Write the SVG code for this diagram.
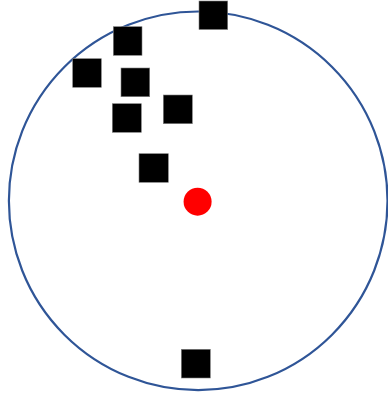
<svg xmlns="http://www.w3.org/2000/svg" width="388" height="396" viewBox="0 0 388 396">
<style>
.sq{fill:#000;stroke:#7f7f7f;stroke-width:0.6}
</style>
<rect width="388" height="396" fill="#fff"/>
<g id="boundary"><ellipse cx="198.2" cy="200.8" rx="189.3" ry="189.3" fill="none" stroke="#2F5597" stroke-width="2.2"/></g>
<g id="center"><circle cx="197.6" cy="201.7" r="14" fill="#FF0000"/></g>
<g id="s1"><rect class="sq" x="199" y="1" width="28.7" height="28.5"/></g>
<g id="s2"><rect class="sq" x="113.3" y="26.7" width="28.7" height="28.6"/></g>
<g id="s3"><rect class="sq" x="72.7" y="58.7" width="28.6" height="28.6"/></g>
<g id="s4"><rect class="sq" x="121" y="68" width="28.7" height="28.7"/></g>
<g id="s5"><rect class="sq" x="163.3" y="95" width="29" height="28.7"/></g>
<g id="s6"><rect class="sq" x="112.3" y="103.7" width="29" height="28.6"/></g>
<g id="s7"><rect class="sq" x="139" y="153.7" width="29.3" height="28.6"/></g>
<g id="s8"><rect class="sq" x="181.3" y="349.3" width="29" height="28.7"/></g>
<g id="connectors"></g>
</svg>
